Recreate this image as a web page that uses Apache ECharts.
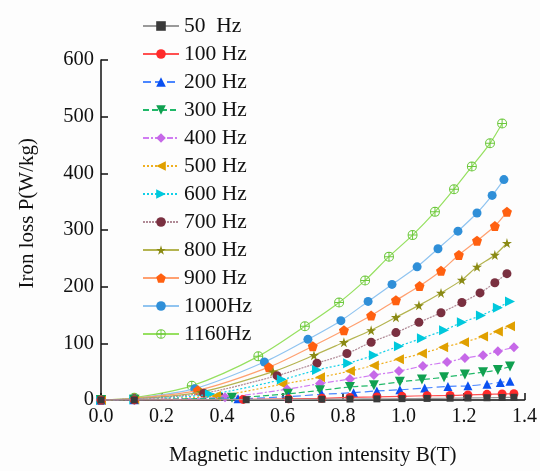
<!DOCTYPE html>
<html>
<head>
<meta charset="utf-8">
<script src="https://cdn.jsdelivr.net/npm/echarts@6/dist/echarts.min.js"></script>
<style>
  html, body { margin: 0; padding: 0; background: #fdfdfd; }
  #myChart { width: 540px; height: 471px; }
</style>
</head>
<body>
<div id="myChart"></div>
<script>
// legend names
var names = ['50  Hz', '100 Hz', '200 Hz', '300 Hz', '400 Hz', '500 Hz', '600 Hz', '700 Hz', '800 Hz', '900 Hz', '1000Hz', '1160Hz'];

// B (T) values for each frequency
var b50   = [0, 0.11, 0.48, 0.62, 0.73, 0.823, 0.912, 0.995, 1.078, 1.154, 1.213, 1.276, 1.326, 1.365];
var b100  = [0, 0.11, 0.47, 0.62, 0.73, 0.823, 0.912, 0.995, 1.078, 1.154, 1.213, 1.276, 1.326, 1.365];
var b200  = [0, 0.11, 0.453, 0.62, 0.73, 0.835, 0.912, 0.988, 1.07, 1.147, 1.213, 1.276, 1.32, 1.352];
var b300  = [0, 0.11, 0.433, 0.618, 0.724, 0.823, 0.902, 0.988, 1.061, 1.134, 1.203, 1.263, 1.312, 1.352];
var b400  = [0, 0.11, 0.41, 0.615, 0.724, 0.823, 0.902, 0.985, 1.064, 1.144, 1.203, 1.263, 1.312, 1.365];
var b500  = [0, 0.11, 0.38, 0.60, 0.724, 0.823, 0.902, 0.985, 1.061, 1.131, 1.2, 1.263, 1.312, 1.352];
var b600  = [0, 0.11, 0.36, 0.598, 0.714, 0.817, 0.902, 0.985, 1.061, 1.134, 1.193, 1.256, 1.312, 1.352];
var b700  = [0, 0.11, 0.34, 0.582, 0.714, 0.813, 0.893, 0.975, 1.051, 1.124, 1.193, 1.253, 1.302, 1.342];
var b800  = [0, 0.11, 0.33, 0.569, 0.704, 0.803, 0.893, 0.975, 1.051, 1.124, 1.193, 1.243, 1.302, 1.342];
var b900  = [0, 0.11, 0.32, 0.555, 0.70, 0.803, 0.893, 0.975, 1.053, 1.124, 1.183, 1.243, 1.302, 1.342];
var b1000 = [0, 0.11, 0.31, 0.54, 0.684, 0.793, 0.883, 0.962, 1.045, 1.114, 1.18, 1.243, 1.293, 1.332];
var b1160 = [0, 0.11, 0.30, 0.52, 0.674, 0.787, 0.873, 0.952, 1.03, 1.104, 1.167, 1.226, 1.286, 1.326];

// iron loss P (W/kg)
var p50   = [0, 0.1, 0.5, 1, 1.3, 1.7, 2, 2.4, 2.8, 3.2, 3.6, 4, 4.4, 4.8];
var p100  = [0, 0.2, 1, 2, 3, 4.5, 5.5, 6.5, 7.5, 8, 9, 10, 10.5, 11];
var p200  = [0, 0.3, 2, 6, 10, 13, 16, 18, 21, 24, 25, 28, 31, 33];
var p300  = [0, 0.5, 4, 11, 17, 23, 26, 32, 36, 40, 45, 49, 53, 59];
var p400  = [0, 1, 5, 19, 29, 37, 44, 51, 60, 67, 74, 79, 86, 93];
var p500  = [0, 1, 7, 28, 40, 51, 61, 72, 82, 93, 102, 112, 121, 130];
var p600  = [0, 1, 10, 36, 53, 65, 79, 95, 109, 123, 137, 149, 163, 174];
var p700  = [0, 2, 12, 43, 65, 82, 102, 119, 137, 154, 172, 189, 207, 223];
var p800  = [0, 2, 14, 50, 79, 102, 123, 146, 167, 189, 212, 235, 256, 277];
var p900  = [0, 3, 17, 58, 95, 123, 149, 176, 201, 228, 256, 281, 307, 332];
var p1000 = [0, 3, 20, 67, 107, 140, 174, 204, 235, 267, 298, 330, 361, 389];
var p1160 = [0, 4, 25, 77, 130, 172, 211, 253, 291, 332, 372, 412, 453, 488];

var bList = [b50, b100, b200, b300, b400, b500, b600, b700, b800, b900, b1000, b1160];
var pList = [p50, p100, p200, p300, p400, p500, p600, p700, p800, p900, p1000, p1160];

var star = 'path://M50,0 L61,35 L98,35 L68,57 L79,91 L50,70 L21,91 L32,57 L2,35 L39,35 Z';
var pentagon = 'path://M50,0 L98,35 L79,91 L21,91 L2,35 Z';
var circlePlus = 'path://M0,-10 A10,10 0 1,1 0,10 A10,10 0 1,1 0,-10 Z M0,-8 A8,8 0 1,0 0,8 A8,8 0 1,0 0,-8 Z M-1,-8 L1,-8 L1,8 L-1,8 Z M-8,-1 L8,-1 L8,1 L-8,1 Z';

// marker, marker colour, line colour, line type, symbol rotate, size
var styles = [
    ['rect', '#3a3a3a', '#9a9a9a', 'solid', 0, 7],
    ['circle', '#ff2a2a', '#ff5050', 'solid', 0, 9],
    ['triangle', '#0a50f0', '#4a86ff', [8, 4], 0, 9],
    ['triangle', '#10a050', '#20b868', [6, 3], 180, 10],
    ['diamond', '#c668e8', '#d07cf2', [6, 2, 2, 2], 0, 10],
    ['triangle', '#e0a000', '#f0b020', [2, 2], 90, 10],
    ['triangle', '#00c8dc', '#10d0e8', [2, 2], -90, 10],
    ['circle', '#7a3040', '#b08a96', [2, 1], 0, 9],
    [star, '#8a8a14', '#b4b450', 'solid', 0, 10],
    [pentagon, '#ff6010', '#ffa070', 'solid', 0, 10],
    ['circle', '#2f8fd8', '#90c4f0', 'solid', 0, 9],
    [circlePlus, '#6cc83c', '#96e060', 'solid', 0, 10]
];

var series = [];
for (var i = 0; i < names.length; i++) {
    var pts = [];
    for (var j = 0; j < bList[i].length; j++) {
        pts.push([bList[i][j], pList[i][j]]);
    }
    var s = styles[i];
    series.push({
        name: names[i],
        type: 'line',
        data: pts,
        smooth: 0.3,
        symbol: s[0],
        symbolSize: s[5],
        symbolRotate: s[4],
        itemStyle: { color: s[1] },
        lineStyle: { color: s[2], width: 1.2, type: s[3] },
        z: 2 + (names.length - i)
    });
}

var serif = '"Liberation Serif", "DejaVu Serif", serif';

var option = {
    backgroundColor: '#fdfdfd',
    animation: false,
    legend: {
        orient: 'vertical',
        left: 137,
        top: 10,
        itemWidth: 36,
        itemHeight: 12,
        itemGap: 6,
        textStyle: {
            fontFamily: serif, fontSize: 21.5, color: '#111', lineHeight: 22,
            width: 68, align: 'right'
        },
        data: names
    },
    grid: {
        left: 101,
        right: 13,
        top: 60,
        bottom: 70
    },
    xAxis: {
        type: 'value',
        min: 0,
        max: 1.4,
        interval: 0.2,
        name: 'Magnetic induction intensity B(T)',
        nameLocation: 'middle',
        nameGap: 45,
        nameTextStyle: { fontFamily: serif, fontSize: 21, color: '#111' },
        axisLine: { lineStyle: { color: '#111', width: 1.5 } },
        axisTick: { inside: true, length: 7, lineStyle: { color: '#111', width: 1.5 } },
        axisLabel: {
            margin: 7,
            fontFamily: serif, fontSize: 20, color: '#111',
            formatter: function (v) { return v.toFixed(1); }
        },
        splitLine: { show: false }
    },
    yAxis: {
        type: 'value',
        min: 0,
        max: 600,
        interval: 100,
        axisLine: { show: true, lineStyle: { color: '#111', width: 1.5 } },
        axisTick: { show: true, inside: true, length: 7, lineStyle: { color: '#111', width: 1.5 } },
        axisLabel: { margin: 7, fontFamily: serif, fontSize: 20.5, color: '#111' },
        splitLine: { show: false }
    },
    graphic: [{
        type: 'text',
        left: 17,
        top: 138,
        rotation: Math.PI / 2,
        style: {
            text: 'Iron loss P(W/kg)',
            font: '21px ' + serif,
            fill: '#111'
        }
    }],
    series: series
};

var myChart = echarts.init(document.getElementById('myChart'));
myChart.setOption(option);

window.onresize = function () {
    myChart.resize();
}
</script>
</body>
</html>
